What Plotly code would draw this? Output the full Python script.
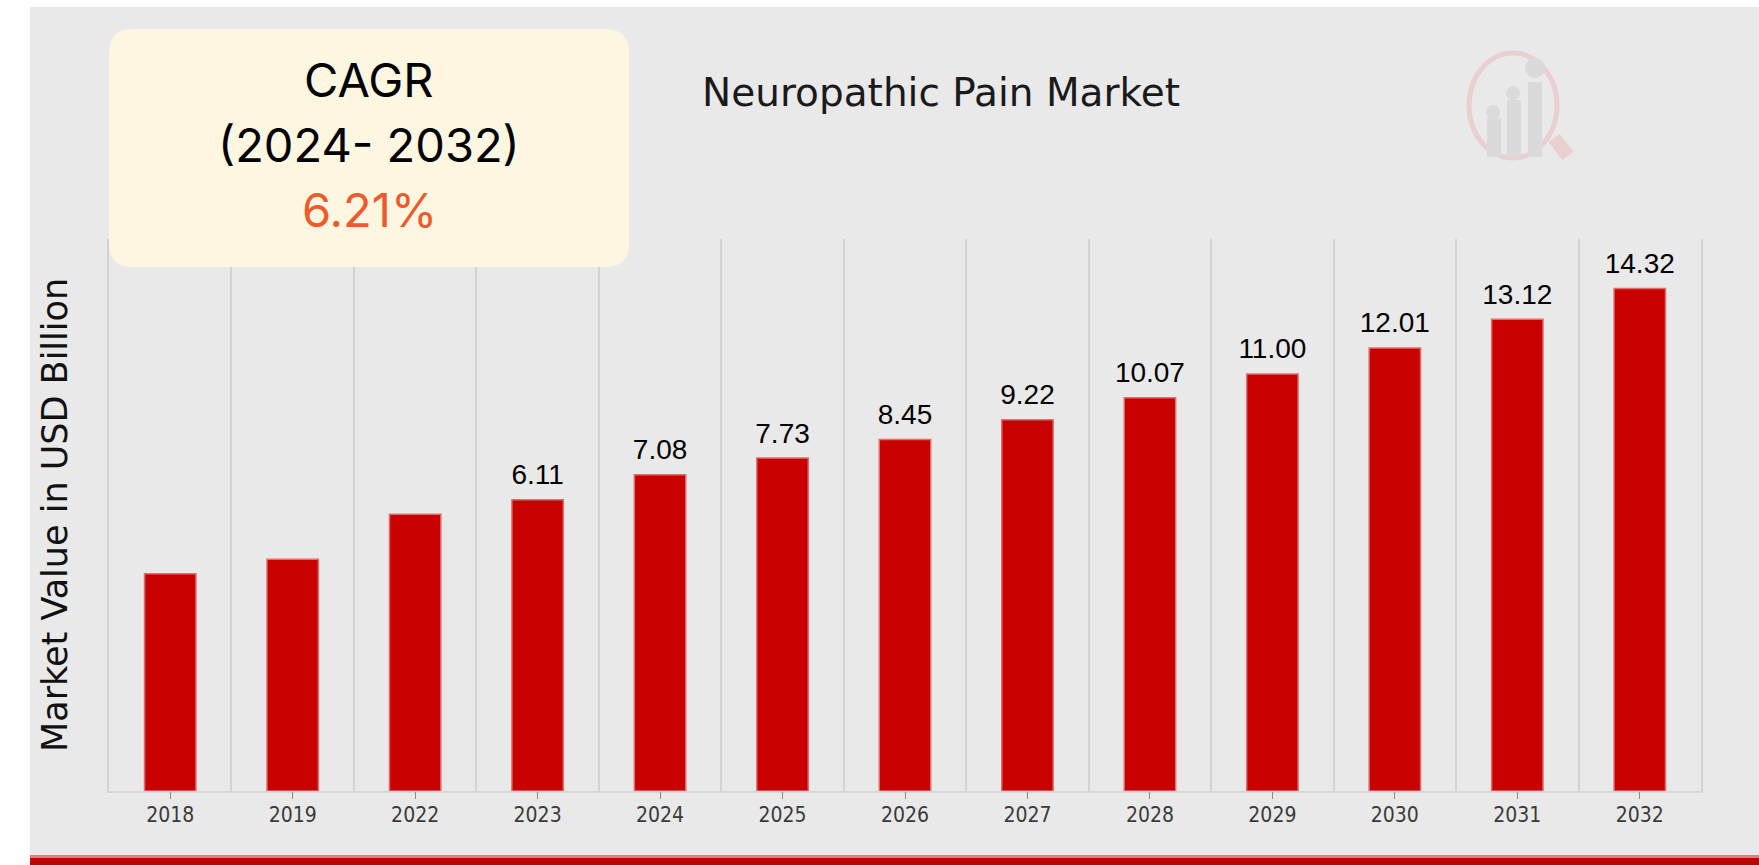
import plotly.graph_objects as go

# ---------------- data ----------------
YEARS = ["2018", "2019", "2022", "2023", "2024", "2025", "2026",
         "2027", "2028", "2029", "2030", "2031", "2032"]
VALUES = [3.24, 3.80, 5.55, 6.11, 7.08, 7.73, 8.45,
          9.22, 10.07, 11.00, 12.01, 13.12, 14.32]
LABELS = ["", "", "", "6.11", "7.08", "7.73", "8.45",
          "9.22", "10.07", "11.00", "12.01", "13.12", "14.32"]
TITLE = "Neuropathic Pain Market"
Y_TITLE = "Market Value in USD Billion"
CAGR_LINES = ["CAGR", "(2024- 2032)", "6.21%"]

AXIS_FLOOR = -5.2
AXIS_TOP = 16.24

# ---------------- geometry helpers (layout only) ----------------
W, H = 1759, 865
ML, MR, MT, MB = 109, 58, 239, 74
PW, PH = W - ML - MR, H - MT - MB


def X(px):
    return (px - ML) / PW


def Y(py):
    return (H - MB - py) / PH


fig = go.Figure()

fig.add_trace(go.Bar(
    x=YEARS,
    y=[v - AXIS_FLOOR for v in VALUES],
    base=AXIS_FLOOR,
    customdata=VALUES,
    hovertemplate="%{x}: %{customdata}<extra></extra>",
    marker=dict(color="#C80000", line=dict(color="#DE6F6F", width=1.5)),
    showlegend=False,
))

# value labels (and centre tick marks via the overlaid axis x2)
fig.add_trace(go.Scatter(
    x=YEARS, y=VALUES, xaxis="x2", yaxis="y", mode="markers+text",
    text=LABELS, textposition="top center",
    textfont=dict(family="Liberation Sans, Arial, sans-serif", size=28, color="#000000"),
    marker=dict(size=12, opacity=0), hoverinfo="skip", showlegend=False,
    cliponaxis=False,
))

annotations = []

# y-axis title
annotations.append(dict(
    xref="paper", yref="paper", x=X(55), y=0.5, text=Y_TITLE, textangle=-90,
    showarrow=False, xanchor="center", yanchor="middle",
    font=dict(family="DejaVu Sans, sans-serif", size=35, color="#111111"),
))

# CAGR box text
cagr_y = [80, 144, 209]
cagr_col = ["#000000", "#000000", "#EF5A2C"]
for txt, py, col in zip(CAGR_LINES, cagr_y, cagr_col):
    annotations.append(dict(
        xref="paper", yref="paper", x=X(369), y=Y(py), text=txt, showarrow=False,
        xanchor="center", yanchor="middle",
        font=dict(family="Inter, Lato, sans-serif", size=47, color=col),
    ))


def rounded_rect(x0, y0, x1, y1, r):
    pts = [
        f"M {X(x0 + r)},{Y(y0)}",
        f"L {X(x1 - r)},{Y(y0)}",
        f"Q {X(x1)},{Y(y0)} {X(x1)},{Y(y0 + r)}",
        f"L {X(x1)},{Y(y1 - r)}",
        f"Q {X(x1)},{Y(y1)} {X(x1 - r)},{Y(y1)}",
        f"L {X(x0 + r)},{Y(y1)}",
        f"Q {X(x0)},{Y(y1)} {X(x0)},{Y(y1 - r)}",
        f"L {X(x0)},{Y(y0 + r)}",
        f"Q {X(x0)},{Y(y0)} {X(x0 + r)},{Y(y0)}",
        "Z",
    ]
    return " ".join(pts)


LOGO_GREY = "#DADADC"
LOGO_PINK = "#E9D0D0"
shapes = [
    dict(type="rect", xref="paper", yref="paper", x0=X(30), x1=X(W + 2), y0=Y(855), y1=Y(7),
         fillcolor="#E9E9E9", line=dict(width=0), layer="below"),
    dict(type="rect", xref="paper", yref="paper", x0=X(30), x1=X(W + 2), y0=Y(858), y1=Y(855),
         fillcolor="#D98080", line=dict(width=0), layer="above"),
    dict(type="rect", xref="paper", yref="paper", x0=X(30), x1=X(W + 2), y0=Y(H + 2), y1=Y(858),
         fillcolor="#C40000", line=dict(width=0), layer="above"),
    dict(type="path", xref="paper", yref="paper", path=rounded_rect(109, 29, 629, 267, 24),
         fillcolor="#FDF6E0", line=dict(width=0), layer="above"),
    # watermark logo
    dict(type="circle", xref="paper", yref="paper", x0=X(1469), x1=X(1557), y0=Y(158), y1=Y(53),
         line=dict(color=LOGO_PINK, width=5), layer="below"),
    dict(type="line", xref="paper", yref="paper", x0=X(1554), x1=X(1568), y0=Y(138), y1=Y(156),
         line=dict(color=LOGO_PINK, width=14), layer="below"),
    dict(type="rect", xref="paper", yref="paper", x0=X(1487), x1=X(1501), y0=Y(157), y1=Y(118),
         fillcolor=LOGO_GREY, line=dict(width=0), layer="below"),
    dict(type="circle", xref="paper", yref="paper", x0=X(1486), x1=X(1500), y0=Y(119), y1=Y(105),
         fillcolor=LOGO_GREY, line=dict(width=0), layer="below"),
    dict(type="rect", xref="paper", yref="paper", x0=X(1507), x1=X(1521), y0=Y(157), y1=Y(100),
         fillcolor=LOGO_GREY, line=dict(width=0), layer="below"),
    dict(type="circle", xref="paper", yref="paper", x0=X(1506), x1=X(1520), y0=Y(100), y1=Y(86),
         fillcolor=LOGO_GREY, line=dict(width=0), layer="below"),
    dict(type="rect", xref="paper", yref="paper", x0=X(1528), x1=X(1542), y0=Y(157), y1=Y(82),
         fillcolor=LOGO_GREY, line=dict(width=0), layer="below"),
    dict(type="circle", xref="paper", yref="paper", x0=X(1525), x1=X(1545), y0=Y(78), y1=Y(58),
         fillcolor=LOGO_GREY, line=dict(width=0), layer="below"),
]

CAT_RANGE = [-0.5, len(YEARS) - 0.5]

fig.update_layout(
    width=W, height=H,
    margin=dict(l=ML, r=MR, t=MT, b=MB, pad=0),
    paper_bgcolor="#FFFFFF",
    plot_bgcolor="rgba(0,0,0,0)",
    bargap=0.58,
    title=dict(
        text=TITLE, xref="paper", x=X(941), xanchor="center",
        yref="container", y=1 - 92 / H, yanchor="middle",
        font=dict(family="DejaVu Sans, sans-serif", size=39, color="#1A1A1A"),
    ),
    xaxis=dict(
        type="category", categoryorder="array", categoryarray=YEARS, range=CAT_RANGE,
        tickson="boundaries", ticks="", showgrid=True, gridcolor="#D3D3D3", gridwidth=2,
        showline=True, linecolor="#D6D6D6", linewidth=2,
        tickfont=dict(family="DejaVu Sans Condensed, DejaVu Sans, sans-serif", size=21, color="#3A3A3A"),
        zeroline=False, tickangle=0, ticklabelstandoff=4,
    ),
    xaxis2=dict(
        type="category", categoryorder="array", categoryarray=YEARS, range=CAT_RANGE,
        overlaying="x", anchor="y", side="bottom",
        ticks="outside", ticklen=7, tickwidth=1, tickcolor="#8A8A8A",
        showticklabels=False, showgrid=False, showline=False, zeroline=False,
    ),
    yaxis=dict(
        range=[AXIS_FLOOR, AXIS_TOP], showticklabels=False, ticks="",
        showgrid=False, zeroline=False,
        showline=True, mirror=True, linecolor="#D3D3D3", linewidth=2,
    ),
    annotations=annotations,
    shapes=shapes,
)

fig.write_html(
    "out.html",
    config={"displayModeBar": False},
    post_script="document.body.style.margin='0';document.body.style.overflow='hidden';",
)
